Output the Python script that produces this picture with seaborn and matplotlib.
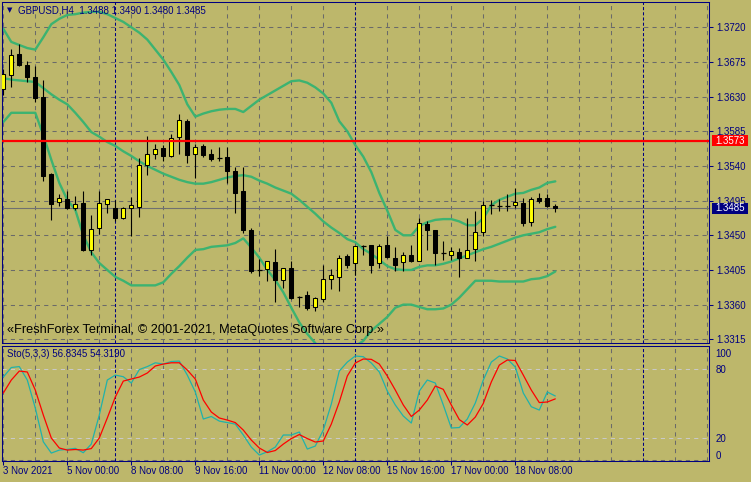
import numpy as np
import matplotlib
matplotlib.use("Agg")
import matplotlib.pyplot as plt
import matplotlib.transforms as mtransforms
from matplotlib.patches import Rectangle
import seaborn as sns

# ---------------- data (GBPUSD H4) ----------------
opens = [1.3640,1.3658,1.3685,1.3671,1.3655,1.3630,1.3530,1.3493,1.3497,1.3485,
         1.3492,1.3431,1.3459,1.3490,1.3485,1.3472,1.3486,1.3487,1.3541,1.3555,
         1.3563,1.3553,1.3577,1.3598,1.3556,1.3566,1.3556,1.3550,1.3552,1.3533,
         1.3508,1.3457,1.3406,1.3406,1.3415,1.3392,1.3408,1.3370,1.3373,1.3357,
         1.3367,1.3393,1.3396,1.3423,1.3414,1.3437,1.3437,1.3414,1.3437,1.3421,
         1.3415,1.3425,1.3416,1.3465,1.3457,1.3427,1.3425,1.3428,1.3421,1.3432,
         1.3454,1.3489,1.3488,1.3488,1.3489,1.3492,1.3467,1.3498,1.3498,1.3488]
highs = [1.3666,1.3692,1.3698,1.3676,1.3670,1.3652,1.3531,1.3504,1.3507,1.3501,
         1.3507,1.3476,1.3507,1.3497,1.3496,1.3487,1.3500,1.3550,1.3579,1.3569,
         1.3567,1.3581,1.3607,1.3601,1.3569,1.3569,1.3562,1.3565,1.3564,1.3539,
         1.3538,1.3459,1.3419,1.3416,1.3432,1.3407,1.3417,1.3371,1.3378,1.3370,
         1.3411,1.3406,1.3424,1.3426,1.3437,1.3438,1.3438,1.3439,1.3449,1.3435,
         1.3428,1.3437,1.3472,1.3468,1.3457,1.3442,1.3435,1.3434,1.3472,1.3481,
         1.3494,1.3496,1.3497,1.3503,1.3512,1.3499,1.3500,1.3505,1.3504,1.3490]
lows = [1.3632,1.3642,1.3670,1.3649,1.3623,1.3520,1.3470,1.3488,1.3484,1.3483,
        1.3429,1.3424,1.3452,1.3479,1.3469,1.3471,1.3449,1.3474,1.3528,1.3549,
        1.3547,1.3552,1.3556,1.3544,1.3524,1.3552,1.3546,1.3546,1.3518,1.3479,
        1.3453,1.3401,1.3397,1.3391,1.3363,1.3381,1.3367,1.3357,1.3353,1.3352,
        1.3363,1.3380,1.3378,1.3407,1.3398,1.3424,1.3401,1.3407,1.3420,1.3404,
        1.3404,1.3415,1.3416,1.3431,1.3412,1.3418,1.3418,1.3396,1.3420,1.3416,
        1.3449,1.3478,1.3482,1.3482,1.3485,1.3462,1.3462,1.3492,1.3487,1.3480]
closes = [1.3659,1.3684,1.3671,1.3655,1.3628,1.3527,1.3491,1.3498,1.3485,1.3490,
          1.3431,1.3458,1.3492,1.3497,1.3472,1.3485,1.3489,1.3541,1.3556,1.3562,
          1.3553,1.3576,1.3599,1.3554,1.3564,1.3554,1.3549,1.3550,1.3534,1.3505,
          1.3457,1.3404,1.3405,1.3416,1.3392,1.3407,1.3369,1.3369,1.3356,1.3368,
          1.3393,1.3398,1.3421,1.3411,1.3436,1.3436,1.3412,1.3436,1.3422,1.3411,
          1.3424,1.3417,1.3466,1.3457,1.3427,1.3427,1.3429,1.3420,1.3431,1.3454,
          1.3489,1.3489,1.3488,1.3488,1.3493,1.3466,1.3497,1.3494,1.3488,1.3485]

bb_upper = [1.3718,1.3701,1.3697,1.3693,1.3691,1.3707,1.3724,1.3731,1.3736,1.3737,
            1.3739,1.3740,1.3740,1.3737,1.3732,1.3727,1.3720,1.3713,1.3704,1.3691,
            1.3678,1.3662,1.3645,1.3620,1.3604,1.3608,1.3611,1.3613,1.3614,1.3614,
            1.3610,1.3618,1.3626,1.3632,1.3638,1.3644,1.3650,1.3651,1.3648,1.3642,
            1.3634,1.3622,1.3598,1.3585,1.3567,1.3552,1.3532,1.3505,1.3482,1.3457,
            1.3450,1.3450,1.3462,1.3467,1.3470,1.3471,1.3471,1.3468,1.3463,1.3463,
            1.3472,1.3489,1.3496,1.3500,1.3504,1.3505,1.3509,1.3512,1.3518,1.3520]
bb_middle = [1.3654,1.3652,1.3651,1.3650,1.3649,1.3641,1.3633,1.3626,1.3620,1.3609,
             1.3597,1.3584,1.3578,1.3571,1.3566,1.3559,1.3553,1.3546,1.3540,1.3535,
             1.3530,1.3526,1.3522,1.3519,1.3517,1.3517,1.3519,1.3522,1.3525,1.3527,
             1.3528,1.3526,1.3521,1.3517,1.3512,1.3508,1.3504,1.3496,1.3487,1.3478,
             1.3468,1.3460,1.3453,1.3445,1.3441,1.3432,1.3426,1.3418,1.3410,1.3406,
             1.3405,1.3405,1.3409,1.3411,1.3411,1.3413,1.3416,1.3420,1.3424,1.3428,
             1.3432,1.3435,1.3439,1.3443,1.3447,1.3450,1.3452,1.3454,1.3458,1.3461]
bb_lower = [1.3597,1.3609,1.3609,1.3609,1.3609,1.3580,1.3548,1.3518,1.3496,1.3483,
            1.3450,1.3428,1.3414,1.3405,1.3396,1.3391,1.3385,1.3385,1.3385,1.3385,
            1.3389,1.3400,1.3410,1.3421,1.3431,1.3432,1.3435,1.3436,1.3437,1.3440,
            1.3446,1.3434,1.3421,1.3405,1.3392,1.3376,1.3356,1.3337,1.3322,1.3310,
            1.3300,1.3295,1.3296,1.3300,1.3306,1.3313,1.3326,1.3335,1.3344,1.3356,
            1.3360,1.3360,1.3357,1.3354,1.3354,1.3355,1.3360,1.3369,1.3380,1.3391,
            1.3391,1.3391,1.3390,1.3390,1.3390,1.3390,1.3393,1.3394,1.3397,1.3403]

sto_main = [73.3,81.6,82.4,70.7,46.3,17.0,7.2,9.8,10.4,11.3,
            7.5,15.0,40.3,70.7,75.0,73.6,68.1,79.8,82.4,85.7,
            84.6,86.8,87.2,75.0,60.3,36.8,39.0,35.0,33.7,32.4,
            22.9,12.4,5.5,8.3,12.4,22.9,22.9,25.5,10.7,13.3,
            27.2,49.8,78.5,86.3,91.6,91.0,85.5,77.7,61.1,49.0,
            39.4,33.3,61.1,70.7,68.1,49.0,29.0,29.4,36.8,50.7,
            70.7,86.3,91.6,89.0,82.0,59.4,47.5,44.6,60.3,56.83]
sto_signal = [59.4,70.7,78.5,77.7,62.0,40.3,20.3,11.6,9.8,10.3,
              9.8,11.1,20.3,37.7,55.9,69.8,71.6,73.3,76.8,82.9,
              84.6,85.7,85.7,79.4,71.6,53.3,42.9,37.7,35.9,33.7,
              27.2,18.5,11.6,7.7,9.4,15.0,19.8,23.3,19.8,16.8,
              17.7,32.4,51.6,74.2,85.5,89.0,88.7,84.6,74.2,62.0,
              49.0,39.0,44.6,53.3,65.5,62.6,49.0,36.3,31.6,38.5,
              50.4,69.0,83.7,88.1,87.7,75.0,62.0,51.1,51.6,54.32]

price_levels = [1.3315, 1.3360, 1.3405, 1.3450, 1.3495, 1.3540, 1.3585, 1.3630, 1.3675, 1.3720]
time_tick_pos = [0, 8, 16, 24, 32, 40, 48, 56, 64]
time_tick_labels = ["3 Nov 2021", "5 Nov 00:00", "8 Nov 08:00", "9 Nov 16:00", "11 Nov 00:00",
                    "12 Nov 08:00", "15 Nov 16:00", "17 Nov 00:00", "18 Nov 08:00"]
week_separators = [14, 44, 80]
sto_levels = [20, 80]
sto_label_pos = [94.4, 80, 20, 5.7]
sto_label_txt = ["100", "80", "20", "0"]
hline_price = 1.3573
bid_price = 1.3485

# ---------------- style ----------------
W, H = 751, 482
BG = '#BDB76B'
NAVY = '#000080'
GRIDC = '#6a6a6a'
BBC = '#3CB371'

sns.set_style("white")
plt.rcParams['font.family'] = ['Liberation Sans', 'DejaVu Sans']
plt.rcParams['axes.linewidth'] = 0.75

fig = plt.figure(figsize=(W / 100, H / 100), dpi=100, facecolor=BG)

def rect(x0, y0, x1, y1):
    return [x0 / W, 1 - y1 / H, (x1 - x0) / W, (y1 - y0) / H]

ax = fig.add_axes(rect(2, 2, 709, 343))
axs = fig.add_axes(rect(2, 346, 709, 461))

xlim = ((2 - 3.3) / 8, (709 - 3.3) / 8)
for a in (ax, axs):
    a.set_facecolor(BG)
    a.set_xlim(*xlim)
    for s in a.spines.values():
        s.set_color(NAVY)
        s.set_linewidth(0.75)
        s.set_visible(True)

ax.set_ylim(1.33102, 1.37528)
axs.set_ylim(0.3, 100.3)

dash = (0, (4, 4))
# vertical grid + weekly separators
for a in (ax, axs):
    for k in range(0, 89, 4):
        if k in week_separators:
            continue
        a.axvline(k, color=GRIDC, lw=0.75, ls=dash, zorder=0.5)
    for k in week_separators:
        a.axvline(k, color=NAVY, lw=0.75, ls=(0, (3, 2)), zorder=0.6)
for p in price_levels:
    ax.axhline(p, color=GRIDC, lw=0.75, ls=dash, zorder=0.5)
axs.axhline(1.2, color=GRIDC, lw=0.75, ls=dash, zorder=0.5)

# bid line
ax.axhline(bid_price, color='#707070', lw=0.8, zorder=1)

# bollinger bands
idx = np.arange(len(closes))
for band in (bb_upper, bb_middle, bb_lower):
    sns.lineplot(x=idx, y=np.array(band), ax=ax, color=BBC, linewidth=1.7,
                 estimator=None, sort=False, zorder=2)

# candles
o = np.array(opens); h = np.array(highs); l = np.array(lows); c = np.array(closes)
ax.vlines(idx, l, h, color='black', lw=0.8, zorder=3)
for i in range(len(idx)):
    if abs(c[i] - o[i]) < 0.00012:
        ax.hlines((o[i] + c[i]) / 2, i - 0.32, i + 0.32, color='black', lw=0.9, zorder=4)
    else:
        bull = c[i] > o[i]
        ax.bar(i, c[i] - o[i], bottom=o[i], width=0.5,
               color='#FFFF00' if bull else 'black', edgecolor='black',
               linewidth=0.75, zorder=4)

# red horizontal line
ax.axhline(hline_price, color='#FF0000', lw=1.6, zorder=5)

# stochastic
for lv in sto_levels:
    axs.axhline(lv, color='#C9C9C9', lw=0.75, ls=dash, zorder=1)
sns.lineplot(x=idx, y=np.array(sto_main), ax=axs, color='#20B2AA', linewidth=0.9,
             estimator=None, sort=False, zorder=3)
sns.lineplot(x=idx, y=np.array(sto_signal), ax=axs, color='#FF0000', linewidth=0.9,
             estimator=None, sort=False, zorder=3)

# axes ticks
for a in (ax, axs):
    a.set_xlabel('')
    a.set_ylabel('')

ax.set_xticks([])
ax.yaxis.tick_right()
ax.set_yticks(price_levels)
ax.set_yticklabels([f"{p:.4f}" for p in price_levels])
ax.tick_params(axis='y', right=True, left=False, length=3, width=0.75, color=NAVY,
               labelcolor=NAVY, labelsize=7, pad=2.2)

axs.yaxis.tick_right()
axs.set_yticks(sto_label_pos)
axs.set_yticklabels(sto_label_txt)
axs.tick_params(axis='y', right=True, left=False, length=0, labelcolor=NAVY,
                labelsize=7, pad=4.5)
axs.set_xticks(time_tick_pos)
axs.set_xticklabels(time_tick_labels, ha='left')
axs.tick_params(axis='x', bottom=True, length=3, width=0.75, color=NAVY, direction='out',
                labelcolor=NAVY, labelsize=7, pad=0.8)
for lab in axs.get_xticklabels():
    lab.set_horizontalalignment('left')

# price boxes on the right axis
blend = mtransforms.blended_transform_factory(ax.transAxes, ax.transData)
box_h = 10.5 * (1.37528 - 1.33102) / 341
for price, col in ((hline_price, '#FF0000'), (bid_price, NAVY)):
    ax.add_patch(Rectangle(((711.5 - 2) / 707, price - box_h / 2), 36 / 707, box_h,
                           transform=blend, facecolor=col, edgecolor='none',
                           clip_on=False, zorder=10))
    ax.text((730 - 2) / 707, price, f"{price:.4f}", transform=blend, color='white',
            fontsize=7, ha='center', va='center', clip_on=False, zorder=11)

# texts
ax.text((7 - 2) / 707, 1 - (10.5 - 2) / 341, "\u25BC", transform=ax.transAxes,
        fontsize=5, color=NAVY, ha='left', va='center', family=['DejaVu Sans'])
ax.text((18 - 2) / 707, 1 - (10.5 - 2) / 341, "GBPUSD,H4  1.3488 1.3490 1.3480 1.3485",
        transform=ax.transAxes, fontsize=7, color=NAVY, ha='left', va='center', zorder=8)
ax.text((7 - 2) / 707, 1 - (330 - 2) / 341,
        "\u00abFreshForex Terminal, \u00a9 2001-2021, MetaQuotes Software Corp.\u00bb",
        transform=ax.transAxes, fontsize=9.2, color='black', ha='left', va='center', zorder=8)
axs.text((7 - 2) / 707, 1 - (354 - 346) / 115, "Sto(5,3,3) 56.8345 54.3190",
         transform=axs.transAxes, fontsize=7, color=NAVY, ha='left', va='center', zorder=8)

fig.savefig("out.png", dpi=100, facecolor=BG)
